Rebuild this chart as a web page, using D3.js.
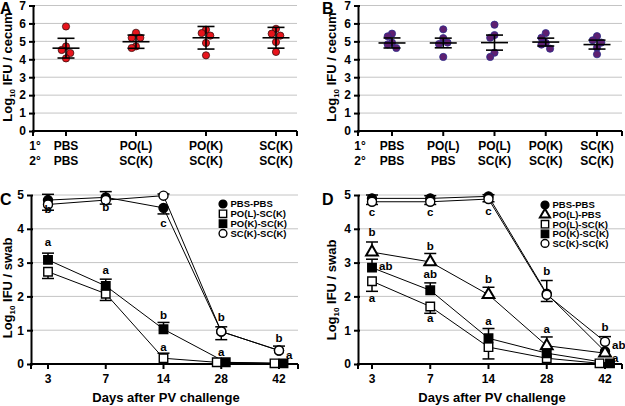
<!DOCTYPE html>
<html>
<head>
<meta charset="utf-8">
<script src="https://cdn.jsdelivr.net/npm/d3@7"></script>
<style>
  body { margin: 0; background: #fff; }
  svg { display: block; font-family: "Liberation Sans", Arial, sans-serif; font-weight: bold; }
</style>
</head>
<body>
<svg id="chart" width="625" height="406"></svg>
<script>
// ---- data ----
// Panel A: cecum burden, 4 groups
const groupsA = [['PBS', 'PBS'], ['PO(L)', 'SC(K)'], ['PO(K)', 'SC(K)'], ['SC(K)', 'SC(K)']];
const dotsA = [
    [5.83, 4.72, 4.52, 4.35, 4.05],
    [5.48, 5.2, 5.2, 4.72, 4.63],
    [5.65, 5.46, 5.32, 4.91, 4.22],
    [5.7, 5.43, 5.32, 4.96, 4.41]
];
const meanA = [4.62, 4.98, 5.2, 5.2];
const seA = [0.55, 0.37, 0.63, 0.58];

// Panel B: cecum burden, 5 groups
const groupsB = [['PBS', 'PBS'], ['PO(L)', 'PBS'], ['PO(L)', 'SC(K)'], ['PO(K)', 'SC(K)'], ['SC(K)', 'SC(K)']];
const dotsB = [
    [5.43, 5.28, 4.93, 4.83, 4.63],
    [5.67, 5.18, 4.85, 4.93, 4.13],
    [5.93, 5.35, 5.2, 4.37, 4.13],
    [5.46, 5.2, 4.91, 4.82, 4.59],
    [5.29, 5.06, 4.93, 4.65, 4.28]
];
const meanB = [4.91, 4.91, 4.93, 4.96, 4.82];
const seB = [0.28, 0.27, 0.42, 0.22, 0.25];

const doseRows = ['1°', '2°'];
const days = [3, 7, 14, 28, 42];

// Panel C: swab shedding
const pbsC = [4.85, 4.93, 4.62, 0.96, 0.4];
const polC = [2.73, 2.08, 0.17, 0.05, 0.02];
const pokC = [3.08, 2.31, 1.03, 0.05, 0.02];
const sckC = [4.72, 4.85, 4.98, 0.96, 0.4];
const pbsCUp = [0.17, 0.17, 0, 0, 0];
const pbsCDown = [0, 0, 0.18, 0, 0];
const polCUp = [0, 0, 0.15, 0, 0];
const polCDown = [0.2, 0.2, 0, 0, 0];
const pokCUp = [0.2, 0.2, 0.2, 0, 0];
const pokCDown = [0, 0, 0, 0, 0];
const sckCUp = [0, 0, 0.05, 0.14, 0.13];
const sckCDown = [0.17, 0.12, 0, 0.24, 0];

// Panel D: swab shedding
const pbsD = [4.9, 4.9, 4.96, 2.08, 0.37];
const polPbsD = [3.31, 3.02, 2.05, 0.54, 0.32];
const polD = [2.45, 1.7, 0.5, 0.17, 0.02];
const pokD = [2.85, 2.18, 0.76, 0.32, 0.02];
const sckD = [4.8, 4.8, 4.88, 2.05, 0.66];
const pbsDUp = [0.1, 0.08, 0.05, 0, 0];
const polPbsDUp = [0.3, 0.25, 0.22, 0.26, 0];
const polDDown = [0.3, 0.2, 0.35, 0, 0];
const pokDUp = [0.25, 0.22, 0.29, 0, 0];
const sckDUp = [0, 0, 0, 0.42, 0.15];
const sckDDown = [0.08, 0.08, 0.08, 0.2, 0];
const zeros = [0, 0, 0, 0, 0];

// significance letters (day, value where the letter sits, text)
const lettersC = [
    {day: 3, v: 4.59, t: 'b'}, {day: 3, v: 3.61, t: 'a'},
    {day: 7, v: 4.64, t: 'b'}, {day: 7, v: 2.78, t: 'a'},
    {day: 14, v: 4.17, t: 'c'}, {day: 14, v: 1.45, t: 'b'}, {day: 14, v: 0.5, t: 'a'},
    {day: 28, v: 1.39, t: 'b'}, {day: 28, v: 0.36, t: 'a'},
    {day: 42, v: 0.77, t: 'b'}, {day: 42, v: 0.27, t: 'a', side: 'r'}
];
const lettersD = [
    {day: 3, v: 4.5, t: 'c'}, {day: 3, v: 3.9, t: 'b'}, {day: 3, v: 2.89, t: 'ab', side: 'r'}, {day: 3, v: 1.96, t: 'a'},
    {day: 7, v: 4.5, t: 'c'}, {day: 7, v: 3.49, t: 'b'}, {day: 7, v: 2.65, t: 'ab'}, {day: 7, v: 1.37, t: 'a'},
    {day: 14, v: 4.53, t: 'c'}, {day: 14, v: 2.53, t: 'b'}, {day: 14, v: 1.26, t: 'a'},
    {day: 28, v: 2.75, t: 'b'}, {day: 28, v: 1.04, t: 'a'},
    {day: 42, v: 1.1, t: 'b'}, {day: 42, v: 0.55, t: 'ab', side: 'r'}, {day: 42, v: 0.17, t: 'a', side: 'r'}
];

const svg = d3.select('#chart');
const gridColor = '#c4c4c4';

function panelLetter(x, y, t) {
    svg.append('text').attr('x', x).attr('y', y).attr('font-size', 16).text(t);
}

function yLabel(x, y, rest) {
    const t = svg.append('text')
        .attr('transform', `translate(${x},${y}) rotate(-90)`)
        .attr('text-anchor', 'middle')
        .attr('font-size', 13);
    t.append('tspan').text('Log');
    t.append('tspan').attr('font-size', 8).attr('dy', 3).text('10');
    t.append('tspan').attr('dy', -3).text(' ' + rest);
}

function yAxis(g, y, x0, n) {
    const ax = g.append('g')
        .attr('transform', `translate(${x0},0)`)
        .call(d3.axisLeft(y).ticks(n).tickSize(4).tickSizeOuter(0).tickPadding(3));
    ax.attr('font-family', null).attr('font-size', 12);
    ax.select('.domain').attr('stroke-width', 2);
    ax.selectAll('.tick line').attr('x1', 2).attr('stroke-width', 2);
    ax.selectAll('.tick text').attr('fill', '#000');
}

function grid(g, y, vals, x0, x1) {
    g.selectAll(null).data(vals).join('line')
        .attr('x1', x0).attr('x2', x1)
        .attr('y1', d => y(d)).attr('y2', d => y(d))
        .attr('stroke', gridColor).attr('stroke-width', 1);
}

function baseLine(g, y0, x0, x1, tickXs) {
    g.append('line').attr('x1', x0 - 1).attr('x2', x1).attr('y1', y0).attr('y2', y0)
        .attr('stroke', '#000').attr('stroke-width', 2);
    g.selectAll(null).data([x0, ...tickXs, x1]).join('line')
        .attr('x1', d => d).attr('x2', d => d)
        .attr('y1', y0).attr('y2', y0 + 5)
        .attr('stroke', '#000').attr('stroke-width', 2);
}

// simple column layout so overlapping dots spread sideways
function placeDots(vals, ypx, d, T) {
    const placed = [];
    vals.forEach(v => {
        const yy = ypx(v);
        let best = 0, bestD = -1;
        for (const c of [0, -d, d]) {
            const md = d3.min(placed, p => Math.hypot(p.dx - c, p.y - yy));
            const m = md === undefined ? Infinity : md;
            if (m >= T) { best = c; bestD = m; break; }
            if (m > bestD) { bestD = m; best = c; }
        }
        placed.push({v, y: yy, dx: best});
    });
    return placed;
}

function scatterPanel(o) {
    const g = svg.append('g');
    const y = d3.scaleLinear().domain([0, 7]).range([131, 5.5]);
    const x = d3.scalePoint().domain(d3.range(o.groups.length)).range(o.range);

    grid(g, y, d3.range(1, 8), o.x0, o.x1);
    baseLine(g, y(0), o.x0, o.x1, o.groups.map((d, i) => x(i)));
    yAxis(g, y, o.x0, 7);

    o.dots.forEach((vals, i) => {
        const pts = placeDots(vals, y, 4.3, 6.5);
        g.selectAll(null).data(pts).join('circle')
            .attr('cx', p => x(i) + p.dx).attr('cy', p => p.y).attr('r', 3.6)
            .attr('fill', o.fill).attr('stroke', o.stroke).attr('stroke-width', 0.8);

        const m = o.means[i], s = o.ses[i], cx = x(i);
        const eg = g.append('g').attr('stroke', '#000').attr('stroke-width', 1.6);
        eg.append('line').attr('x1', cx - 13.5).attr('x2', cx + 13.5).attr('y1', y(m)).attr('y2', y(m));
        eg.append('line').attr('x1', cx).attr('x2', cx).attr('y1', y(m - s)).attr('y2', y(m + s));
        [m - s, m + s].forEach(v => {
            eg.append('line').attr('x1', cx - 8.5).attr('x2', cx + 8.5).attr('y1', y(v)).attr('y2', y(v));
        });
    });

    // group labels under the axis
    const lab = g.append('g').attr('font-size', 12).attr('text-anchor', 'middle');
    doseRows.forEach((r, k) => {
        lab.append('text').attr('x', o.x0 + 2).attr('y', 149.5 + k * 15).text(r);
        o.groups.forEach((gr, i) => {
            lab.append('text').attr('x', x(i)).attr('y', 149.5 + k * 15).text(gr[k]);
        });
    });
}

const symbols = {circle: d3.symbolCircle, square: d3.symbolSquare, triangle: d3.symbolTriangle};
function marker(sel, shape, filled, scale) {
    const size = {circle: 64, square: 72, triangle: 60}[shape] * scale;
    sel.attr('d', d3.symbol().type(symbols[shape]).size(size)())
        .attr('fill', filled ? '#000' : '#fff')
        .attr('stroke', '#000')
        .attr('stroke-width', shape === 'triangle' ? 2 : 1.4);
}

function timePanel(o) {
    const g = svg.append('g');
    const y = d3.scaleLinear().domain([0, 5]).range([364, 195]);
    const x = d3.scalePoint().domain(days).range(o.range);

    grid(g, y, d3.range(1, 6), o.x0, o.gridEnd);
    baseLine(g, y(0), o.x0, o.x1, days.map(d => x(d)));
    yAxis(g, y, o.x0, 5);

    const xa = g.append('g').attr('font-size', 12).attr('text-anchor', 'middle');
    days.forEach(d => xa.append('text').attr('x', x(d)).attr('y', 383).text(d));

    const px = (s, i) => x(days[i]) + (s.vals[i] < 0.1 ? (s.dodge || 0) : 0);

    // connecting lines
    o.series.forEach(s => {
        g.append('path')
            .datum(s.vals)
            .attr('d', d3.line().x((v, i) => px(s, i)).y(v => y(v)))
            .attr('fill', 'none').attr('stroke', '#000').attr('stroke-width', 1);
    });

    // error bars and markers
    o.series.forEach(s => {
        s.vals.forEach((v, i) => {
            const cx = px(s, i);
            [[s.up[i], 1], [s.down[i], -1]].forEach(([e, sg]) => {
                if (!e) return;
                const ye = y(v + sg * e);
                g.append('line').attr('x1', cx).attr('x2', cx).attr('y1', y(v)).attr('y2', ye)
                    .attr('stroke', '#000').attr('stroke-width', 1.5);
                g.append('line').attr('x1', cx - 6).attr('x2', cx + 6).attr('y1', ye).attr('y2', ye)
                    .attr('stroke', '#000').attr('stroke-width', 1.5);
            });
        });
        g.selectAll(null).data(s.vals).join('path')
            .attr('transform', (v, i) => `translate(${px(s, i)},${y(v)})`)
            .call(sel => marker(sel, s.shape, s.filled, 1));
    });

    // letters
    g.selectAll(null).data(o.letters).join('text')
        .attr('font-size', 11.5)
        .attr('text-anchor', d => d.side === 'r' ? 'start' : 'middle')
        .attr('x', d => x(d.day) + (d.side === 'r' ? 7 : 0))
        .attr('y', d => y(d.v))
        .attr('dy', '0.35em')
        .text(d => d.t);

    // legend
    const lg = g.append('g').attr('font-size', 9.5);
    o.series.forEach((s, i) => {
        const ly = o.legend[1] + i * o.legend[2];
        lg.append('path').attr('transform', `translate(${o.legend[0]},${ly})`)
            .call(sel => marker(sel, s.shape, s.filled, 0.75));
        lg.append('text').attr('x', o.legend[0] + 7.5).attr('y', ly).attr('dy', '0.36em').text(s.name);
    });

    g.append('text').attr('x', o.labelX).attr('y', 402).attr('text-anchor', 'middle')
        .attr('font-size', 13).text('Days after PV challenge');
}

// ---- draw ----
scatterPanel({groups: groupsA, dots: dotsA, means: meanA, ses: seA,
    fill: '#e8141c', stroke: '#3a1010', x0: 33, x1: 297, range: [66, 276]});
scatterPanel({groups: groupsB, dots: dotsB, means: meanB, ses: seB,
    fill: '#5e1f70', stroke: '#2b2d8c', x0: 358, x1: 622, range: [392, 597]});

timePanel({
    x0: 31, x1: 298, gridEnd: 298, range: [48, 279], labelX: 166,
    legend: [223, 204, 9.8], letters: lettersC,
    series: [
        {name: 'PBS-PBS', vals: pbsC, up: pbsCUp, down: pbsCDown, shape: 'circle', filled: true},
        {name: 'PO(L)-SC(K)', vals: polC, up: polCUp, down: polCDown, shape: 'square', filled: false, dodge: -4.5},
        {name: 'PO(K)-SC(K)', vals: pokC, up: pokCUp, down: pokCDown, shape: 'square', filled: true, dodge: 4.5},
        {name: 'SC(K)-SC(K)', vals: sckC, up: sckCUp, down: sckCDown, shape: 'circle', filled: false}
    ]
});

timePanel({
    x0: 358, x1: 622, gridEnd: 625, range: [372, 605], labelX: 492,
    legend: [545, 205, 9.6], letters: lettersD,
    series: [
        {name: 'PBS-PBS', vals: pbsD, up: pbsDUp, down: zeros, shape: 'circle', filled: true},
        {name: 'PO(L)-PBS', vals: polPbsD, up: polPbsDUp, down: zeros, shape: 'triangle', filled: false},
        {name: 'PO(L)-SC(K)', vals: polD, up: zeros, down: polDDown, shape: 'square', filled: false, dodge: -5.5},
        {name: 'PO(K)-SC(K)', vals: pokD, up: pokDUp, down: zeros, shape: 'square', filled: true, dodge: 5},
        {name: 'SC(K)-SC(K)', vals: sckD, up: sckDUp, down: sckDDown, shape: 'circle', filled: false}
    ]
});

yLabel(11.5, 67, 'IFU / cecum');
yLabel(336, 67, 'IFU / cecum');
yLabel(11.5, 288, 'IFU / swab');
yLabel(336, 290, 'IFU / swab');

panelLetter(0, 14, 'A');
panelLetter(322, 14, 'B');
panelLetter(0, 205, 'C');
panelLetter(322, 205, 'D');
</script>
</body>
</html>
